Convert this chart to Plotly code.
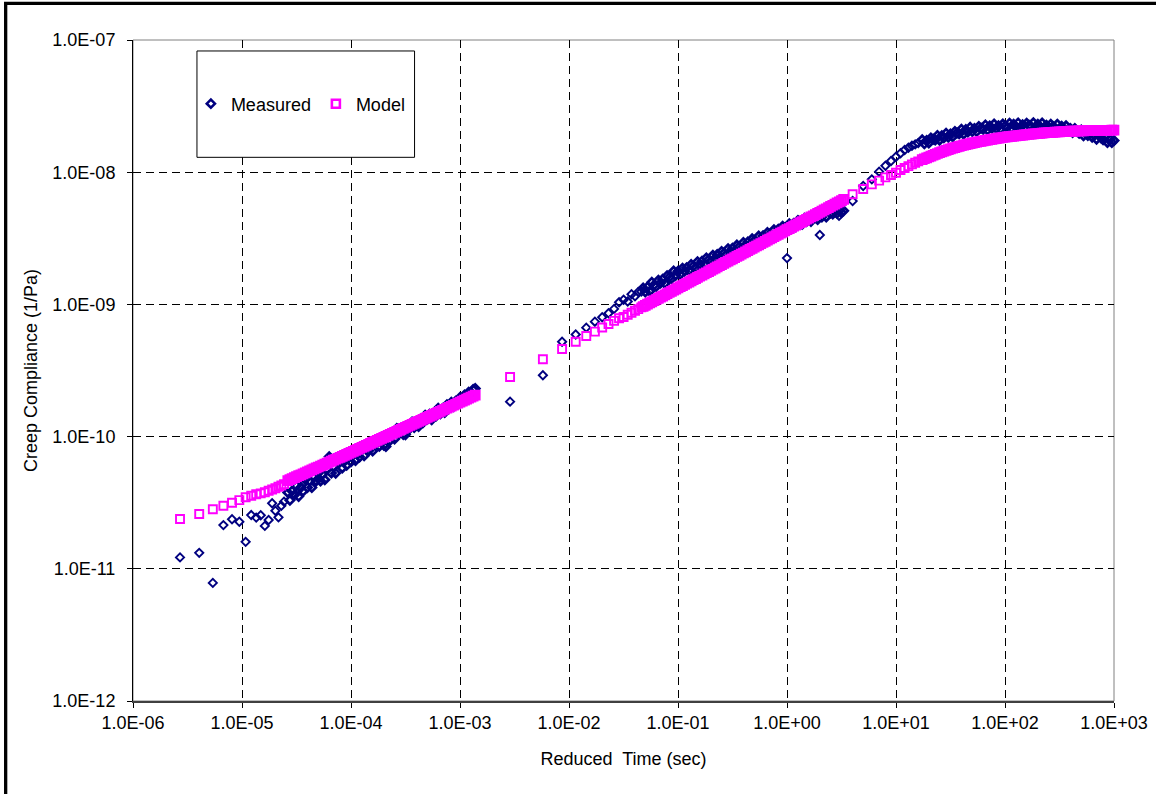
import plotly.graph_objects as go

# ---------------- data ----------------
# Segment 1 (short reduced times)
T_SEG1 = [2.7e-6, 4.05e-6, 5.4e-6, 6.75e-6, 8.1e-6, 9.45e-6, 1.08e-5, 1.215e-5, 1.35e-5,
          1.485e-5, 1.62e-5, 1.755e-5, 1.89e-5, 2.025e-5, 2.16e-5, 2.295e-5, 2.43e-5,
          2.63e-5, 2.75e-5, 2.88e-5, 3.02e-5, 3.16e-5, 3.31e-5, 3.47e-5, 3.63e-5, 3.80e-5, 3.98e-5,
          4.17e-5, 4.37e-5, 4.57e-5, 4.79e-5, 5.01e-5, 5.25e-5, 5.50e-5, 5.75e-5, 6.03e-5, 6.31e-5,
          6.61e-5, 6.92e-5, 7.24e-5, 7.59e-5, 7.94e-5, 8.32e-5, 8.71e-5, 9.12e-5, 9.55e-5, 1.00e-4,
          1.05e-4, 1.10e-4, 1.15e-4, 1.20e-4, 1.26e-4, 1.32e-4, 1.38e-4, 1.45e-4, 1.51e-4, 1.58e-4,
          1.66e-4, 1.74e-4, 1.82e-4, 1.91e-4, 2.00e-4, 2.09e-4, 2.19e-4, 2.29e-4, 2.40e-4, 2.51e-4,
          2.63e-4, 2.75e-4, 2.88e-4, 3.02e-4, 3.16e-4, 3.31e-4, 3.47e-4, 3.63e-4, 3.80e-4, 3.98e-4,
          4.17e-4, 4.37e-4, 4.57e-4, 4.79e-4, 5.01e-4, 5.25e-4, 5.50e-4, 5.75e-4, 6.03e-4, 6.31e-4,
          6.61e-4, 6.92e-4, 7.24e-4, 7.59e-4, 7.94e-4, 8.32e-4, 8.71e-4, 9.12e-4, 9.55e-4, 1.00e-3,
          1.05e-3, 1.10e-3, 1.15e-3, 1.20e-3, 1.26e-3, 1.32e-3, 1.38e-3]
MEAS_SEG1 = [1.22e-11, 1.32e-11, 7.82e-12, 2.14e-11, 2.37e-11, 2.27e-11, 1.60e-11, 2.55e-11, 2.44e-11,
             2.54e-11, 2.11e-11, 2.34e-11, 3.13e-11, 2.75e-11, 2.45e-11, 3.00e-11, 3.22e-11,
             3.78e-11, 3.30e-11, 3.87e-11, 3.61e-11, 4.24e-11, 3.53e-11, 4.13e-11, 3.86e-11, 4.74e-11, 4.12e-11,
             4.63e-11, 4.12e-11, 4.96e-11, 4.62e-11, 5.31e-11, 4.62e-11, 5.18e-11, 4.72e-11, 5.68e-11, 7.03e-11,
             5.30e-11, 5.93e-11, 5.29e-11, 6.36e-11, 6.97e-11, 5.79e-11, 6.50e-11, 6.06e-11, 6.96e-11, 6.46e-11,
             7.40e-11, 6.59e-11, 7.38e-11, 7.02e-11, 8.06e-11, 7.15e-11, 8.19e-11, 7.81e-11, 8.76e-11, 7.78e-11,
             8.70e-11, 9.54e-11, 8.46e-11, 9.25e-11, 8.61e-11, 8.41e-11, 1.007e-10, 9.37e-11, 1.051e-10, 9.59e-11,
             1.150e-10, 1.045e-10, 1.142e-10, 1.039e-10, 1.035e-10, 1.213e-10, 1.154e-10, 1.290e-10, 1.173e-10, 1.282e-10,
             1.193e-10, 1.365e-10, 1.271e-10, 1.453e-10, 1.352e-10, 1.478e-10, 1.343e-10, 1.503e-10, 1.430e-10, 1.638e-10,
             1.490e-10, 1.630e-10, 1.520e-10, 1.740e-10, 1.659e-10, 1.819e-10, 1.691e-10, 1.852e-10, 1.763e-10, 1.977e-10,
             1.887e-10, 2.062e-10, 1.968e-10, 2.165e-10, 2.129e-10, 2.268e-10, 2.308e-10]
MODEL_SEG1 = [2.38e-11, 2.60e-11, 2.82e-11, 3.00e-11, 3.16e-11, 3.31e-11, 3.48e-11, 3.57e-11, 3.66e-11,
              3.72e-11, 3.79e-11, 3.89e-11, 3.98e-11, 4.07e-11, 4.17e-11, 4.27e-11, 4.37e-11,
              4.65e-11, 4.73e-11, 4.81e-11, 4.89e-11, 4.98e-11, 5.06e-11, 5.14e-11, 5.23e-11, 5.32e-11, 5.41e-11,
              5.50e-11, 5.60e-11, 5.69e-11, 5.79e-11, 5.89e-11, 5.99e-11, 6.09e-11, 6.19e-11, 6.30e-11, 6.41e-11,
              6.52e-11, 6.63e-11, 6.74e-11, 6.86e-11, 6.97e-11, 7.09e-11, 7.21e-11, 7.34e-11, 7.46e-11, 7.59e-11,
              7.72e-11, 7.86e-11, 8.00e-11, 8.14e-11, 8.28e-11, 8.42e-11, 8.58e-11, 8.73e-11, 8.88e-11, 9.04e-11,
              9.20e-11, 9.36e-11, 9.52e-11, 9.69e-11, 9.86e-11, 1.004e-10, 1.021e-10, 1.039e-10, 1.058e-10, 1.076e-10,
              1.095e-10, 1.115e-10, 1.134e-10, 1.154e-10, 1.175e-10, 1.196e-10, 1.217e-10, 1.238e-10, 1.260e-10, 1.282e-10,
              1.305e-10, 1.328e-10, 1.352e-10, 1.375e-10, 1.400e-10, 1.424e-10, 1.449e-10, 1.475e-10, 1.501e-10, 1.528e-10,
              1.554e-10, 1.582e-10, 1.610e-10, 1.638e-10, 1.667e-10, 1.697e-10, 1.727e-10, 1.757e-10, 1.788e-10, 1.820e-10,
              1.852e-10, 1.885e-10, 1.918e-10, 1.952e-10, 1.986e-10, 2.021e-10, 2.057e-10]

# Segment 2 (intermediate reduced times)
T_SEG2 = [2.88e-3, 5.76e-3, 8.64e-3, 1.152e-2, 1.44e-2, 1.728e-2, 2.016e-2, 2.304e-2, 2.592e-2, 2.88e-2,
          3.168e-2, 3.456e-2, 3.744e-2, 4.032e-2, 4.32e-2, 4.608e-2,
          0.0479, 0.0501, 0.0525, 0.0550, 0.0575, 0.0603, 0.0631, 0.0661, 0.0692, 0.0724,
          0.0759, 0.0794, 0.0832, 0.0871, 0.0912, 0.0955, 0.100, 0.105, 0.110, 0.115,
          0.120, 0.126, 0.132, 0.138, 0.145, 0.151, 0.158, 0.166, 0.174, 0.182,
          0.191, 0.200, 0.209, 0.219, 0.229, 0.240, 0.251, 0.263, 0.275, 0.288,
          0.302, 0.316, 0.331, 0.347, 0.363, 0.380, 0.398, 0.417, 0.437, 0.457,
          0.479, 0.501, 0.525, 0.550, 0.575, 0.603, 0.631, 0.661, 0.692, 0.724,
          0.759, 0.794, 0.832, 0.871, 0.912, 0.955, 1.00, 1.05, 1.10, 1.15,
          1.20, 1.26, 1.32, 1.38, 1.45, 1.51, 1.58, 1.66, 1.74, 1.82,
          1.91, 2.00, 2.09, 2.19, 2.29, 2.40, 2.51, 2.63, 2.75, 2.88,
          3.02, 3.16, 3.31]
MEAS_SEG2 = [1.837e-10, 2.91e-10, 5.22e-10, 5.92e-10, 6.67e-10, 7.40e-10, 8.00e-10, 8.57e-10, 9.25e-10, 1.038e-9,
             1.084e-9, 1.052e-9, 1.194e-9, 1.153e-9, 1.242e-9, 1.250e-9,
             1.330e-9, 1.239e-9, 1.351e-9, 1.258e-9, 1.471e-9, 1.400e-9, 1.365e-9, 1.523e-9, 1.450e-9, 1.547e-9,
             1.440e-9, 1.648e-9, 1.603e-9, 1.562e-9, 1.787e-9, 1.665e-9, 1.780e-9, 1.686e-9, 1.878e-9, 1.784e-9,
             1.897e-9, 1.799e-9, 2.003e-9, 1.944e-9, 1.889e-9, 2.104e-9, 1.996e-9, 2.124e-9, 2.012e-9, 2.246e-9,
             2.178e-9, 2.112e-9, 2.353e-9, 2.232e-9, 2.380e-9, 2.256e-9, 2.512e-9, 2.437e-9, 2.364e-9, 2.639e-9,
             2.501e-9, 2.660e-9, 2.523e-9, 2.810e-9, 2.726e-9, 2.645e-9, 2.944e-9, 2.791e-9, 2.969e-9, 2.814e-9,
             3.134e-9, 3.041e-9, 2.951e-9, 3.285e-9, 3.113e-9, 3.312e-9, 3.140e-9, 3.498e-9, 3.392e-9, 3.292e-9,
             3.665e-9, 3.475e-9, 3.695e-9, 3.504e-9, 3.904e-9, 3.786e-9, 3.673e-9, 4.082e-9, 3.859e-9, 4.098e-9,
             3.875e-9, 4.304e-9, 4.169e-9, 4.034e-9, 4.483e-9, 4.240e-9, 4.498e-9, 4.246e-9, 4.707e-9, 4.546e-9,
             4.390e-9, 4.863e-9, 4.591e-9, 4.857e-9, 4.586e-9, 5.084e-9, 4.908e-9, 4.828e-9, 5.088e-9, 4.893e-9,
             5.167e-9, 4.967e-9, 5.113e-9]
MODEL_SEG2 = [2.825e-10, 3.85e-10, 4.60e-10, 5.22e-10, 5.77e-10, 6.22e-10, 6.68e-10, 7.11e-10, 7.50e-10, 7.85e-10,
              8.04e-10, 8.36e-10, 8.65e-10, 8.95e-10, 9.21e-10, 9.49e-10,
              9.64e-10, 9.84e-10, 1.004e-9, 1.025e-9, 1.046e-9, 1.067e-9, 1.089e-9, 1.111e-9, 1.134e-9, 1.157e-9,
              1.181e-9, 1.205e-9, 1.230e-9, 1.255e-9, 1.280e-9, 1.307e-9, 1.334e-9, 1.361e-9, 1.389e-9, 1.417e-9,
              1.446e-9, 1.476e-9, 1.506e-9, 1.537e-9, 1.568e-9, 1.600e-9, 1.633e-9, 1.667e-9, 1.701e-9, 1.736e-9,
              1.771e-9, 1.807e-9, 1.844e-9, 1.882e-9, 1.921e-9, 1.960e-9, 2.000e-9, 2.041e-9, 2.083e-9, 2.125e-9,
              2.169e-9, 2.213e-9, 2.259e-9, 2.305e-9, 2.352e-9, 2.400e-9, 2.449e-9, 2.499e-9, 2.551e-9, 2.603e-9,
              2.656e-9, 2.710e-9, 2.766e-9, 2.822e-9, 2.880e-9, 2.939e-9, 2.999e-9, 3.060e-9, 3.123e-9, 3.187e-9,
              3.252e-9, 3.319e-9, 3.387e-9, 3.456e-9, 3.527e-9, 3.599e-9, 3.673e-9, 3.748e-9, 3.825e-9, 3.903e-9,
              3.983e-9, 4.064e-9, 4.148e-9, 4.233e-9, 4.319e-9, 4.408e-9, 4.498e-9, 4.590e-9, 4.684e-9, 4.780e-9,
              4.878e-9, 4.977e-9, 5.079e-9, 5.183e-9, 5.289e-9, 5.397e-9, 5.508e-9, 5.621e-9, 5.736e-9, 5.853e-9,
              5.973e-9, 6.095e-9, 6.220e-9]

# Segment 3 (long reduced times)
T_SEG3 = [1, 2, 3, 4, 5, 6, 7, 8, 9, 10, 11, 12, 13, 14, 15, 16,
          17.4, 18.2, 19.1, 20.0, 20.9, 21.9, 22.9, 24.0, 25.1,
          26.3, 27.5, 28.8, 30.2, 31.6, 33.1, 34.7, 36.3, 38.0, 39.8,
          41.7, 43.7, 45.7, 47.9, 50.1, 52.5, 55.0, 57.5, 60.3, 63.1,
          66.1, 69.2, 72.4, 75.9, 79.4, 83.2, 87.1, 91.2, 95.5, 100,
          105, 110, 115, 120, 126, 132, 138, 145, 151, 158,
          166, 174, 182, 191, 200, 209, 219, 229, 240, 251,
          263, 275, 288, 302, 316, 331, 347, 363, 380, 398,
          417, 437, 457, 479, 501, 525, 550, 575, 603, 631,
          661, 692, 724, 759, 794, 832, 871, 912, 955, 1000]
MEAS_SEG3 = [2.24e-9, 3.35e-9, 4.68e-9, 6.05e-9, 7.87e-9, 8.83e-9, 1.009e-8, 1.119e-8, 1.216e-8, 1.309e-8,
             1.390e-8, 1.472e-8, 1.531e-8, 1.585e-8, 1.622e-8, 1.660e-8,
             1.758e-8, 1.641e-8, 1.738e-8, 1.660e-8, 1.816e-8, 1.774e-8, 1.750e-8, 1.897e-8, 1.746e-8,
             1.888e-8, 1.824e-8, 1.972e-8, 1.841e-8, 1.945e-8, 1.854e-8, 2.028e-8, 1.982e-8, 1.954e-8, 2.113e-8,
             1.941e-8, 2.099e-8, 2.018e-8, 2.183e-8, 2.028e-8, 2.138e-8, 2.028e-8, 2.213e-8, 2.148e-8, 2.113e-8,
             2.275e-8, 2.084e-8, 2.239e-8, 2.148e-8, 2.312e-8, 2.138e-8, 2.244e-8, 2.128e-8, 2.312e-8, 2.239e-8,
             2.190e-8, 2.350e-8, 2.146e-8, 2.301e-8, 2.200e-8, 2.360e-8, 2.181e-8, 2.286e-8, 2.160e-8, 2.344e-8,
             2.262e-8, 2.208e-8, 2.363e-8, 2.153e-8, 2.305e-8, 2.198e-8, 2.352e-8, 2.168e-8, 2.267e-8, 2.138e-8,
             2.307e-8, 2.218e-8, 2.158e-8, 2.301e-8, 2.089e-8, 2.223e-8, 2.109e-8, 2.244e-8, 2.056e-8, 2.138e-8,
             1.995e-8, 2.138e-8, 2.042e-8, 1.972e-8, 2.089e-8, 1.888e-8, 2.004e-8, 1.897e-8, 2.014e-8, 1.841e-8,
             1.905e-8, 1.778e-8, 1.905e-8, 1.820e-8, 1.758e-8, 1.862e-8, 1.679e-8, 1.778e-8, 1.679e-8, 1.738e-8]
MODEL_SEG3 = [3.67e-9, 4.98e-9, 5.96e-9, 6.81e-9, 7.46e-9, 8.09e-9, 8.63e-9, 9.14e-9, 9.53e-9, 9.91e-9,
              1.040e-8, 1.076e-8, 1.112e-8, 1.146e-8, 1.178e-8, 1.208e-8,
              1.245e-8, 1.264e-8, 1.283e-8, 1.303e-8, 1.323e-8, 1.343e-8, 1.364e-8, 1.385e-8, 1.406e-8,
              1.425e-8, 1.444e-8, 1.464e-8, 1.483e-8, 1.503e-8, 1.519e-8, 1.535e-8, 1.551e-8, 1.568e-8, 1.585e-8,
              1.600e-8, 1.614e-8, 1.629e-8, 1.644e-8, 1.660e-8, 1.673e-8, 1.686e-8, 1.699e-8, 1.713e-8, 1.726e-8,
              1.738e-8, 1.750e-8, 1.762e-8, 1.774e-8, 1.786e-8, 1.797e-8, 1.808e-8, 1.819e-8, 1.830e-8, 1.841e-8,
              1.849e-8, 1.858e-8, 1.866e-8, 1.875e-8, 1.884e-8, 1.892e-8, 1.901e-8, 1.910e-8, 1.919e-8, 1.928e-8,
              1.934e-8, 1.941e-8, 1.948e-8, 1.954e-8, 1.961e-8, 1.968e-8, 1.975e-8, 1.982e-8, 1.988e-8, 1.995e-8,
              2.000e-8, 2.004e-8, 2.009e-8, 2.014e-8, 2.018e-8, 2.023e-8, 2.028e-8, 2.032e-8, 2.037e-8, 2.042e-8,
              2.044e-8, 2.046e-8, 2.049e-8, 2.051e-8, 2.054e-8, 2.056e-8, 2.058e-8, 2.061e-8, 2.063e-8, 2.065e-8,
              2.067e-8, 2.068e-8, 2.070e-8, 2.071e-8, 2.073e-8, 2.074e-8, 2.076e-8, 2.077e-8, 2.079e-8, 2.080e-8]

# number of individually resolved (sparse) points at the start of each segment
SPARSE_COUNTS = [17, 16, 16]

X_TICKS = [1e-6, 1e-5, 1e-4, 1e-3, 1e-2, 1e-1, 1e0, 1e1, 1e2, 1e3]
X_TICK_LABELS = ["1.0E-06", "1.0E-05", "1.0E-04", "1.0E-03", "1.0E-02", "1.0E-01",
                 "1.0E+00", "1.0E+01", "1.0E+02", "1.0E+03"]
Y_TICKS = [1e-12, 1e-11, 1e-10, 1e-9, 1e-8, 1e-7]
Y_TICK_LABELS = ["1.0E-12", "1.0E-11", "1.0E-10", "1.0E-09", "1.0E-08", "1.0E-07"]

# ---------------- figure ----------------
t_all = T_SEG1 + T_SEG2 + T_SEG3
meas_all = MEAS_SEG1 + MEAS_SEG2 + MEAS_SEG3
model_all = MODEL_SEG1 + MODEL_SEG2 + MODEL_SEG3

# marker outline widths: thin for resolved points, heavier where markers pile up into a band
line_w = []
for seg, n_sparse in zip([T_SEG1, T_SEG2, T_SEG3], SPARSE_COUNTS):
    line_w += [1.9] * n_sparse + [2.7] * (len(seg) - n_sparse)

FONT = "Liberation Sans, Arial, sans-serif"

fig = go.Figure()
fig.add_trace(go.Scatter(
    x=t_all, y=meas_all, mode="markers", name="Measured", cliponaxis=False,
    marker=dict(symbol="diamond-open", size=6.3, color="#000080",
                line=dict(width=line_w, color="#000080"))))
fig.add_trace(go.Scatter(
    x=t_all, y=model_all, mode="markers", name="Model", cliponaxis=False,
    marker=dict(symbol="square-open", size=8, color="#FF00FF",
                line=dict(width=line_w, color="#FF00FF"))))

axis_common = dict(
    type="log", showgrid=True, gridcolor="#000000", gridwidth=1, griddash="8px,5px",
    ticks="outside", ticklen=5, tickcolor="#000000", tickwidth=1,
    showline=True, zeroline=False, automargin=False,
    tickfont=dict(family=FONT, size=18, color="#000000"),
)

fig.update_layout(
    width=1156, height=794,
    margin=dict(l=133, r=42, t=40, b=93),
    paper_bgcolor="white", plot_bgcolor="white",
    font=dict(family=FONT, size=18, color="#000000"),
    xaxis=dict(axis_common, range=[-6, 3], tickvals=X_TICKS, ticktext=X_TICK_LABELS,
               linecolor="#404040", linewidth=1.5, ticklabelstandoff=0,
               title=dict(text="Reduced\u00a0 Time (sec)", standoff=20,
                          font=dict(family=FONT, size=18, color="#000000"))),
    yaxis=dict(axis_common, range=[-12, -7], tickvals=Y_TICKS, ticktext=Y_TICK_LABELS,
               linecolor="#000000", linewidth=1, ticklabelstandoff=8,
               title=dict(text="Creep Compliance (1/Pa)", standoff=10,
                          font=dict(family=FONT, size=18, color="#000000"))),
    showlegend=True,
    legend=dict(orientation="h", x=0.059, xanchor="left", y=0.9032, yanchor="middle",
                bgcolor="rgba(0,0,0,0)", borderwidth=0,
                entrywidth=80, entrywidthmode="pixels",
                font=dict(family=FONT, size=18, color="#000000")),
    shapes=[
        # grey plot-area frame
        dict(type="rect", xref="paper", yref="paper", x0=0, x1=1, y0=0, y1=1,
             line=dict(color="#808080", width=1), layer="between"),
        # legend box
        dict(type="rect", xref="paper", yref="paper", x0=0.0652, x1=0.2870, y0=0.8225, y1=0.9834,
             line=dict(color="#000000", width=1), fillcolor="white", layer="above"),
        # outer chart border
        dict(type="rect", xref="paper", yref="paper", x0=-0.1298, x1=1.049, y0=-0.15, y1=1.0555,
             line=dict(color="#000000", width=3.3), layer="above"),
    ],
)

fig.write_html("out.html")
